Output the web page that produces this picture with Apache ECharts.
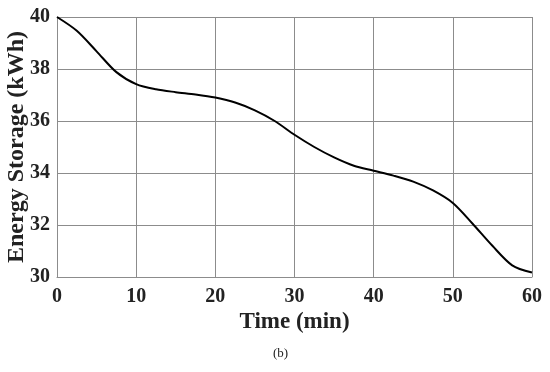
<!DOCTYPE html>
<html>
<head>
<meta charset="utf-8">
<script src="https://cdn.jsdelivr.net/npm/echarts@6/dist/echarts.min.js"></script>
<style>html,body{margin:0;padding:0;background:#fff}#c{width:550px;height:372px}</style>
</head>
<body>
<div id="c"></div>
<script>
const times = [0, 2.5, 5, 7.5, 10, 12.5, 15, 17.5, 20, 22.5, 25, 27.5, 30, 32.5, 35, 37.5, 40, 42.5, 45, 47.5, 50, 52.5, 55, 57.5, 60];
const energy = [40, 39.47, 38.68, 37.88, 37.42, 37.22, 37.11, 37.02, 36.9, 36.71, 36.41, 36.0, 35.47, 35.0, 34.6, 34.28, 34.09, 33.9, 33.67, 33.33, 32.85, 32.05, 31.2, 30.45, 30.17];
const xTicks = [0, 10, 20, 30, 40, 50, 60];
const yTicks = [30, 32, 34, 36, 38, 40];
const xTitle = 'Time (min)';
const yTitle = 'Energy Storage (kWh)';
const caption = '(b)';

const chart = echarts.init(document.getElementById('c'), null, {renderer: 'canvas'});
const font = 'Liberation Serif, Times New Roman, serif';
const gridColor = '#8c8c8c';
chart.setOption({
  animation: false,
  grid: {left: 57, right: 18, top: 17, bottom: 95, show: false, containLabel: false, outerBoundsMode: 'none'},
  xAxis: {
    type: 'value', min: xTicks[0], max: xTicks[xTicks.length - 1], interval: 10,
    name: xTitle, nameLocation: 'middle', nameGap: 34, nameMoveOverlap: false,
    nameTextStyle: {fontFamily: font, fontWeight: 'bold', fontSize: 23, color: '#222'},
    axisLine: {show: true, lineStyle: {color: gridColor, width: 1}},
    axisTick: {show: false},
    axisLabel: {fontFamily: font, fontWeight: 'bold', fontSize: 20, color: '#222', margin: 10},
    splitLine: {show: true, lineStyle: {color: gridColor, width: 1}}
  },
  yAxis: {
    type: 'value', min: yTicks[0], max: yTicks[yTicks.length - 1], interval: 2,
    name: yTitle, nameLocation: 'middle', nameGap: 28, nameRotate: 90, nameMoveOverlap: false,
    nameTextStyle: {fontFamily: font, fontWeight: 'bold', fontSize: 24, color: '#222'},
    axisLine: {show: true, lineStyle: {color: gridColor, width: 1}},
    axisTick: {show: false},
    axisLabel: {fontFamily: font, fontWeight: 'bold', fontSize: 20, color: '#222', margin: 7},
    splitLine: {show: true, lineStyle: {color: gridColor, width: 1}}
  },
  graphic: [{
    type: 'text', left: 273, top: 347,
    style: {text: caption, fontFamily: font, fontSize: 13, fill: '#222'}
  }],
  series: [{
    type: 'line', smooth: 0.3, showSymbol: false,
    data: times.map((t, i) => [t, energy[i]]),
    lineStyle: {color: '#000', width: 2}
  }]
});
</script>
</body>
</html>
